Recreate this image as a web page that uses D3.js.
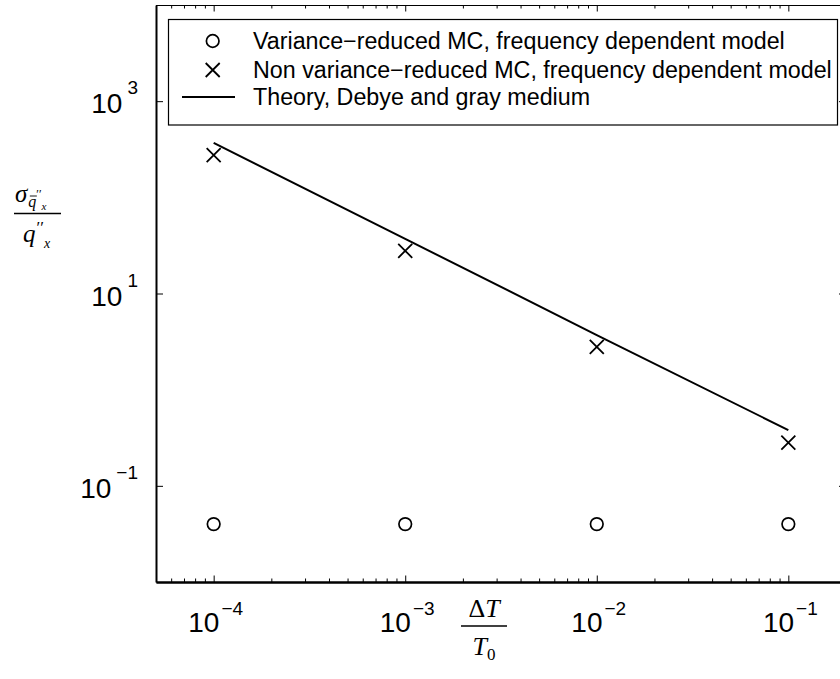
<!DOCTYPE html>
<html><head><meta charset="utf-8">
<script src="https://cdn.jsdelivr.net/npm/d3@7"></script>
<style>body{margin:0;background:#fff} svg{display:block}</style>
</head><body><svg id="c" width="840" height="679"></svg>
<script>
// ---- data ----
const xTickValues = [1e-4, 1e-3, 1e-2, 1e-1];
const xTickExps = ["\u22124", "\u22123", "\u22122", "\u22121"];
const yTickValues = [1e-1, 1e1, 1e3];
const yTickExps = ["\u22121", "1", "3"];
const deltaT = [1e-4, 1e-3, 1e-2, 1e-1];
const varianceReduced = [0.040, 0.040, 0.040, 0.040];
const nonVarianceReduced = [275, 27.8, 2.79, 0.281];
const theory = [368, 37, 3.7, 0.38];
const legendLabels = [
  "Variance\u2212reduced MC, frequency dependent model",
  "Non variance\u2212reduced MC, frequency dependent model",
  "Theory, Debye and gray medium"
];

// ---- layout ----
const svg = d3.select("#c");
const box = {left: 156, top: 5, right: 846, bottom: 582};
const x = d3.scaleLog().domain([5e-5, 0.2]).range([box.left, box.right]);
const y = d3.scaleLog().domain([1e-2, 1e4]).range([box.bottom, box.top]);
const sans = "'Liberation Sans', Arial, Helvetica, sans-serif";
const serif = "'Liberation Serif', 'Times New Roman', serif";

svg.append("rect").attr("width", 840).attr("height", 679).attr("fill", "#fff");

const minorX = x.ticks().filter(v => !xTickValues.some(t => Math.abs(Math.log10(t) - Math.log10(v)) < 1e-6));

function styleAxis(g, w) {
  g.select(".domain").attr("stroke", "#000").attr("stroke-width", w);
  g.selectAll(".tick line").attr("stroke", "#000").attr("stroke-width", 1);
  g.selectAll(".tick text").remove();
}
// bottom
svg.append("g").attr("transform", `translate(0,${box.bottom})`)
  .call(d3.axisBottom(x).tickValues(xTickValues).tickSizeInner(-6.5).tickSizeOuter(0).tickFormat(""))
  .call(g => styleAxis(g, 2));
svg.append("g").attr("transform", `translate(0,${box.bottom})`)
  .call(d3.axisBottom(x).tickValues(minorX).tickSizeInner(-3.5).tickSizeOuter(0).tickFormat(""))
  .call(g => styleAxis(g, 2));
// top
svg.append("g").attr("transform", `translate(0,${box.top})`)
  .call(d3.axisTop(x).tickValues(xTickValues).tickSizeInner(-6.5).tickSizeOuter(0).tickFormat(""))
  .call(g => styleAxis(g, 1.2));
svg.append("g").attr("transform", `translate(0,${box.top})`)
  .call(d3.axisTop(x).tickValues(minorX).tickSizeInner(-3.5).tickSizeOuter(0).tickFormat(""))
  .call(g => styleAxis(g, 1.2));
// left
svg.append("g").attr("transform", `translate(${box.left},0)`)
  .call(d3.axisLeft(y).tickValues(yTickValues).tickSizeInner(-7).tickSizeOuter(0).tickFormat(""))
  .call(g => styleAxis(g, 2));
// right
svg.append("g").attr("transform", `translate(${box.right},0)`)
  .call(d3.axisRight(y).tickValues(yTickValues).tickSizeInner(-7).tickSizeOuter(0).tickFormat(""))
  .call(g => styleAxis(g, 1.2));

// tick labels
xTickValues.forEach((v, i) => {
  const t = svg.append("text").attr("x", x(v) + 2).attr("y", 632)
    .attr("text-anchor", "middle").attr("font-family", sans).attr("font-size", 28).attr("fill", "#000");
  t.append("tspan").text("10");
  t.append("tspan").attr("dx", 2).attr("dy", -17).attr("font-size", 19).text(xTickExps[i]);
});
yTickValues.forEach((v, i) => {
  const t = svg.append("text").attr("x", 138).attr("y", y(v) + 12)
    .attr("text-anchor", "end").attr("font-family", sans).attr("font-size", 28).attr("fill", "#000");
  t.append("tspan").text("10");
  t.append("tspan").attr("dx", 5).attr("dy", -19).attr("font-size", 19).text(yTickExps[i]);
});

// theory line
const line = d3.line().x((d, i) => x(deltaT[i])).y(d => y(d));
svg.append("path").datum(theory).attr("d", line)
  .attr("fill", "none").attr("stroke", "#000").attr("stroke-width", 2);

// markers
svg.append("g").selectAll("circle").data(varianceReduced).join("circle")
  .attr("cx", (d, i) => x(deltaT[i])).attr("cy", d => y(d)).attr("r", 6.3)
  .attr("fill", "none").attr("stroke", "#000").attr("stroke-width", 1.7);
const crossPath = "M-7,-7L7,7M-7,7L7,-7";
svg.append("g").selectAll("path").data(nonVarianceReduced).join("path")
  .attr("transform", (d, i) => `translate(${x(deltaT[i])},${y(d)})`)
  .attr("d", crossPath).attr("fill", "none").attr("stroke", "#000").attr("stroke-width", 1.8);

// legend
const lg = svg.append("g");
lg.append("rect").attr("x", 168.5).attr("y", 19.5).attr("width", 669).attr("height", 105.5)
  .attr("fill", "#fff").attr("stroke", "#000").attr("stroke-width", 1.2);
const rows = [41, 70, 97];
lg.append("circle").attr("cx", 212.7).attr("cy", rows[0]).attr("r", 6.3)
  .attr("fill", "none").attr("stroke", "#000").attr("stroke-width", 1.7);
lg.append("path").attr("transform", `translate(212.7,${rows[1]})`).attr("d", crossPath)
  .attr("fill", "none").attr("stroke", "#000").attr("stroke-width", 1.8);
lg.append("line").attr("x1", 182).attr("x2", 235).attr("y1", rows[2]).attr("y2", rows[2])
  .attr("stroke", "#000").attr("stroke-width", 2);
const texts = legendLabels.map((s, i) => lg.append("text").attr("x", 253).attr("y", rows[i] + 7.5)
  .attr("font-family", sans).attr("font-size", 20).attr("fill", "#000").text(s));
const w20 = texts[1].node().getComputedTextLength();
const fs = 20 * 579 / w20;
texts.forEach(t => t.attr("font-size", fs));

// y-axis label: sigma_{qbar''_x} / q''_x
const yl = svg.append("g").attr("font-family", serif).attr("fill", "#000");
const num = yl.append("text").attr("x", 15).attr("y", 202).attr("font-style", "italic").attr("font-size", 25);
num.append("tspan").text("\u03C3");
num.append("tspan").attr("dx", 1).attr("dy", 5).attr("font-size", 16).text("q");
num.append("tspan").attr("dy", -9).attr("font-size", 12).attr("font-style", "normal").text("\u2032\u2032");
num.append("tspan").attr("dy", 12).attr("font-size", 11).text("x");
{
  const n = num.node();
  const s = n.getStartPositionOfChar(1).x, e = n.getEndPositionOfChar(1).x;
  yl.append("line").attr("x1", s + 1.5).attr("x2", e + 0.5).attr("y1", 196).attr("y2", 196)
    .attr("stroke", "#000").attr("stroke-width", 0.9);
}
yl.append("line").attr("x1", 14).attr("x2", 61).attr("y1", 213.5).attr("y2", 213.5).attr("stroke", "#000").attr("stroke-width", 1.4);
const den = yl.append("text").attr("x", 23).attr("y", 242).attr("font-style", "italic").attr("font-size", 25);
den.append("tspan").text("q");
den.append("tspan").attr("dx", 1).attr("dy", -9).attr("font-size", 17).attr("font-style", "normal").text("\u2032\u2032");
den.append("tspan").attr("dy", 15).attr("font-size", 14).text("x");

// x-axis label: Delta T / T_0
const xl = svg.append("g").attr("font-family", serif).attr("fill", "#000");
const nt = xl.append("text").attr("x", 484).attr("y", 617).attr("text-anchor", "middle").attr("font-size", 26);
nt.append("tspan").text("\u0394");
nt.append("tspan").attr("font-style", "italic").text("T");
xl.append("line").attr("x1", 461).attr("x2", 507).attr("y1", 626).attr("y2", 626).attr("stroke", "#000").attr("stroke-width", 1.4);
const dt = xl.append("text").attr("x", 484).attr("y", 655).attr("text-anchor", "middle").attr("font-size", 26);
dt.append("tspan").attr("font-style", "italic").text("T");
dt.append("tspan").attr("dy", 5).attr("font-size", 17).text("0");
</script>
</body></html>
